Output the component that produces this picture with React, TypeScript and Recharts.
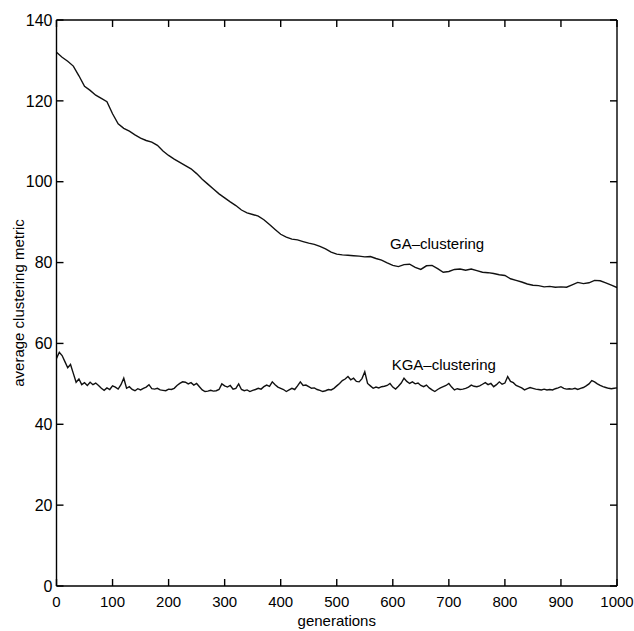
import React from "react";
import {
  LineChart,
  Line,
  XAxis,
  YAxis,
  ReferenceDot,
} from "recharts";

// generations sampled for the GA run (every 10)
const gaGenerations = [
  0, 10, 20, 30, 40, 50, 60, 70, 80, 90, 100, 110, 120, 130, 140, 150, 160, 170, 180, 190,
  200, 210, 220, 230, 240, 250, 260, 270, 280, 290, 300, 310, 320, 330, 340, 350, 360, 370, 380, 390,
  400, 410, 420, 430, 440, 450, 460, 470, 480, 490, 500, 510, 520, 530, 540, 550, 560, 570, 580, 590,
  600, 610, 620, 630, 640, 650, 660, 670, 680, 690, 700, 710, 720, 730, 740, 750, 760, 770, 780, 790,
  800, 810, 820, 830, 840, 850, 860, 870, 880, 890, 900, 910, 920, 930, 940, 950, 960, 970, 980, 990,
  1000,
];

const gaValues = [
  132.0, 130.8, 129.8, 128.6, 126.2, 123.6, 122.6, 121.4, 120.6, 119.8,
  116.8, 114.3, 113.2, 112.5, 111.6, 110.8, 110.2, 109.8, 109.0, 107.6,
  106.5, 105.6, 104.8, 104.0, 103.2, 102.0, 100.6, 99.4, 98.2, 97.0,
  96.0, 95.0, 94.1, 93.0, 92.3, 91.9, 91.5, 90.6, 89.4, 88.2,
  87.0, 86.3, 85.8, 85.6, 85.2, 84.8, 84.5, 84.0, 83.4, 82.6,
  82.1, 81.9, 81.8, 81.7, 81.6, 81.4, 81.5, 81.0, 80.6, 79.9,
  79.3, 79.0, 79.5, 79.6, 78.8, 78.3, 79.2, 79.3, 78.5, 77.6,
  77.8, 78.3, 78.4, 78.1, 78.4, 78.0, 77.6, 77.5, 77.3, 77.0,
  76.8, 76.0, 75.6, 75.2, 74.7, 74.4, 74.3, 74.0, 74.1, 73.9,
  74.0, 73.9, 74.5, 75.1, 74.8, 75.0, 75.6, 75.5, 75.0, 74.4,
  73.8,
];

// generations sampled for the KGA run (every 5)
const kgaGenerations = [
  0, 5, 10, 15, 20, 25, 30, 35, 40, 45, 50, 55, 60, 65, 70, 75, 80, 85, 90, 95,
  100, 105, 110, 115, 120, 125, 130, 135, 140, 145, 150, 155, 160, 165, 170, 175, 180, 185, 190, 195,
  200, 205, 210, 215, 220, 225, 230, 235, 240, 245, 250, 255, 260, 265, 270, 275, 280, 285, 290, 295,
  300, 305, 310, 315, 320, 325, 330, 335, 340, 345, 350, 355, 360, 365, 370, 375, 380, 385, 390, 395,
  400, 405, 410, 415, 420, 425, 430, 435, 440, 445, 450, 455, 460, 465, 470, 475, 480, 485, 490, 495,
  500, 505, 510, 515, 520, 525, 530, 535, 540, 545, 550, 555, 560, 565, 570, 575, 580, 585, 590, 595,
  600, 605, 610, 615, 620, 625, 630, 635, 640, 645, 650, 655, 660, 665, 670, 675, 680, 685, 690, 695,
  700, 705, 710, 715, 720, 725, 730, 735, 740, 745, 750, 755, 760, 765, 770, 775, 780, 785, 790, 795,
  800, 805, 810, 815, 820, 825, 830, 835, 840, 845, 850, 855, 860, 865, 870, 875, 880, 885, 890, 895,
  900, 905, 910, 915, 920, 925, 930, 935, 940, 945, 950, 955, 960, 965, 970, 975, 980, 985, 990, 995,
  1000,
];

const kgaValues = [
  56.3, 57.8, 57.0, 55.5, 54.0, 54.8, 52.6, 50.4, 51.2, 49.8,
  50.3, 49.6, 50.4, 49.8, 50.2, 49.6, 48.9, 48.4, 49.0, 48.6,
  49.5, 49.2, 48.7, 49.8, 51.4, 48.9, 49.3, 48.6, 48.3, 48.8,
  48.5, 48.9, 49.2, 49.8, 48.8, 48.7, 48.9, 48.5, 48.4, 48.3,
  48.7, 48.6, 48.9, 49.6, 50.1, 50.5, 50.4, 50.0, 50.3, 49.7,
  50.1, 49.3, 48.5, 48.1, 48.2, 48.4, 48.2, 48.3, 48.6, 50.0,
  49.5, 49.2, 49.6, 48.7, 48.9, 50.0, 48.6, 48.3, 48.5, 48.1,
  48.4, 48.6, 48.9, 48.7, 49.3, 49.7, 49.4, 50.5, 49.8, 49.2,
  48.9, 48.6, 48.1, 48.5, 48.9, 48.6, 49.5, 50.5, 49.6, 49.7,
  49.3, 48.9, 49.0, 48.6, 48.4, 48.1, 48.3, 48.6, 48.5, 48.9,
  49.5, 50.1, 50.8, 51.2, 51.8, 51.0, 51.4, 50.6, 50.5, 51.3,
  53.0, 50.1, 49.5, 48.9, 49.2, 49.0, 49.3, 49.4, 49.6, 50.1,
  49.2, 48.7, 49.4, 50.2, 51.4, 50.6, 50.1, 50.5, 50.0, 50.2,
  49.6, 49.3, 49.7, 49.0, 48.5, 48.1, 48.6, 49.0, 49.3, 49.6,
  50.1, 49.2, 48.5, 48.8, 48.6, 48.7, 48.9, 49.2, 49.7, 49.4,
  49.3, 49.5, 49.9, 50.3, 49.8, 50.1, 49.3, 49.8, 50.5, 49.9,
  50.2, 51.8, 50.6, 50.3, 49.6, 49.3, 49.0, 48.5, 48.8, 49.1,
  48.9, 48.7, 48.6, 48.5, 48.7, 48.5, 48.6, 48.5, 48.8, 49.0,
  49.3, 48.9, 48.7, 48.8, 48.7, 48.9, 48.6, 48.9, 49.1, 49.5,
  50.0, 50.8, 50.5, 50.0, 49.6, 49.3, 49.1, 48.9, 48.8, 48.9,
  49.0,
];

const xTicks = [0, 100, 200, 300, 400, 500, 600, 700, 800, 900, 1000];
const yTicks = [0, 20, 40, 60, 80, 100, 120, 140];

const gaData = gaGenerations.map((gen, i) => ({ gen, value: gaValues[i] }));
const kgaData = kgaGenerations.map((gen, i) => ({ gen, value: kgaValues[i] }));

const FONT = "'Liberation Sans', Arial, Helvetica, sans-serif";
const yTickStyle = { fill: "#000", fontSize: 16, fontFamily: FONT };
const xTickStyle = { fill: "#000", fontSize: 15, fontFamily: FONT };
const axisStroke = { stroke: "#000", strokeWidth: 1.4 };
const blank = () => "";

const YTitle = (props: any) => {
  const vb = props.viewBox || {};
  const cx = 18;
  const cy = (vb.y ?? 20) + (vb.height ?? 566) / 2;
  return (
    <text
      x={cx}
      y={cy}
      transform={`rotate(-90, ${cx}, ${cy})`}
      textAnchor="middle"
      dominantBaseline="central"
      fontSize={15}
      fontFamily={FONT}
      fill="#000"
    >
      average clustering metric
    </text>
  );
};

const XTitle = (props: any) => {
  const vb = props.viewBox || {};
  const cx = (vb.x ?? 56) + (vb.width ?? 561) / 2;
  return (
    <text
      x={cx}
      y={626}
      textAnchor="middle"
      fontSize={15}
      fontFamily={FONT}
      fill="#000"
    >
      generations
    </text>
  );
};

const SeriesLabel = ({ viewBox, text }: any) => (
  <text
    x={viewBox?.x ?? 0}
    y={viewBox?.y ?? 0}
    dominantBaseline="central"
    fontSize={15}
    fontFamily={FONT}
    fill="#000"
  >
    {text}
  </text>
);

export default function App() {
  return (
    <div style={{ fontFamily: FONT }}>
      <style>{"body { margin: 0; overflow: hidden; } svg.recharts-surface { overflow: visible; }"}</style>
      <LineChart
        width={634}
        height={631}
        margin={{ top: 0, right: 0, bottom: 0, left: 0 }}
      >
        <XAxis
          xAxisId="bottom"
          dataKey="gen"
          type="number"
          domain={[0, 1000]}
          ticks={xTicks}
          allowDataOverflow
          height={45}
          tickSize={-7}
          tickMargin={17}
          tick={xTickStyle}
          axisLine={axisStroke}
          tickLine={axisStroke}
          label={<XTitle />}
        />
        <XAxis
          xAxisId="top"
          orientation="top"
          dataKey="gen"
          type="number"
          domain={[0, 1000]}
          ticks={xTicks}
          allowDataOverflow
          height={20}
          tickSize={-7}
          tickFormatter={blank}
          axisLine={axisStroke}
          tickLine={axisStroke}
        />
        <YAxis
          yAxisId="left"
          type="number"
          domain={[0, 140]}
          ticks={yTicks}
          allowDataOverflow
          width={56.5}
          tickSize={-7}
          tickMargin={11}
          tick={yTickStyle}
          axisLine={axisStroke}
          tickLine={axisStroke}
          label={<YTitle />}
        />
        <YAxis
          yAxisId="right"
          orientation="right"
          type="number"
          domain={[0, 140]}
          ticks={yTicks}
          allowDataOverflow
          width={17}
          tickSize={-7}
          tickFormatter={blank}
          axisLine={axisStroke}
          tickLine={axisStroke}
        />
        <Line
          data={gaData}
          xAxisId="bottom"
          yAxisId="left"
          dataKey="value"
          type="linear"
          stroke="#111"
          strokeWidth={1.4}
          dot={false}
          activeDot={false}
          isAnimationActive={false}
        />
        <Line
          data={kgaData}
          xAxisId="bottom"
          yAxisId="left"
          dataKey="value"
          type="linear"
          stroke="#111"
          strokeWidth={1.4}
          dot={false}
          activeDot={false}
          isAnimationActive={false}
        />
        <ReferenceDot
          xAxisId="bottom"
          yAxisId="left"
          x={595}
          y={84.8}
          r={0}
          fill="none"
          stroke="none"
          label={<SeriesLabel text="GA–clustering" />}
        />
        <ReferenceDot
          xAxisId="bottom"
          yAxisId="left"
          x={598}
          y={54.9}
          r={0}
          fill="none"
          stroke="none"
          label={<SeriesLabel text="KGA–clustering" />}
        />
      </LineChart>
    </div>
  );
}
